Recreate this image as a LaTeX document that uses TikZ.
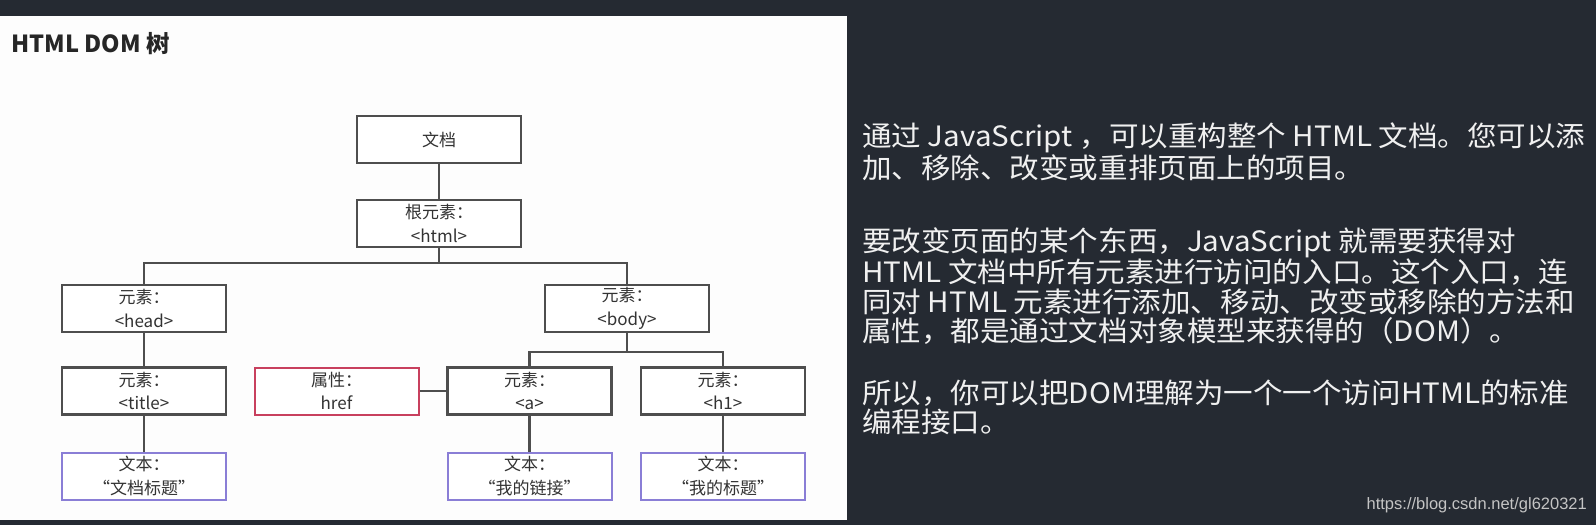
\documentclass[tikz,border=0pt]{standalone}
\usepackage{fontspec}
\setmainfont{Noto Sans CJK SC}
\newfontfamily\parafont{Noto Sans CJK SC}[FakeStretch=1.055]
\newfontfamily\urlfont{Liberation Sans}
\definecolor{darkbg}{HTML}{252A32}
\definecolor{panel}{HTML}{FDFDFD}
\definecolor{boxgray}{HTML}{4E4E4E}
\definecolor{nodetext}{HTML}{333333}
\definecolor{attrred}{HTML}{C8405E}
\definecolor{textblue}{HTML}{8A7ED6}
\definecolor{lighttext}{HTML}{F0F0F0}
\definecolor{urlgray}{HTML}{C4C4C4}
\tikzset{
  box/.style={draw=boxgray, line width=2.2pt, minimum width=164pt, minimum height=47pt,
    inner sep=0pt, align=center, text=nodetext, fill=white,
    font=\fontsize{17}{23.5}\selectfont},
  attrbox/.style={box, draw=attrred, line width=2pt},
  txtbox/.style={box, draw=textblue, line width=2pt},
  conn/.style={draw=boxgray, line width=2.2pt},
  para/.style={anchor=west, inner sep=0pt, text=lighttext, font=\parafont\fontsize{28}{30}\selectfont}
}
\begin{document}
\begin{tikzpicture}[x=1pt,y=-1pt]
\fill[darkbg] (0,0) rectangle (1596,525);
\fill[panel] (0,16) rectangle (847,520);
\useasboundingbox (0,0) rectangle (1596,525);

\node[anchor=west, inner sep=0pt, text=black!85, font=\fontsize{23.5}{26}\selectfont\bfseries] (title) at (11,44) {HTML DOM 树};

\node[box] (doc) at (439,139.5) {文档};
\node[box] (html) at (439,223.5) {根元素：\\<html>};
\node[box] (head) at (144,308.5) {元素：\\<head>};
\node[box] (body) at (627,308.5) {元素：\\<body>};
\node[box] (ttl) at (144,391) {元素：\\<title>};
\node[attrbox] (href) at (336.5,391) {属性：\\href};
\node[box] (a) at (529.5,391) {元素：\\<a>};
\node[box] (h1) at (723,391) {元素：\\<h1>};
\node[txtbox] (t1) at (144,476) {文本：\\“文档标题”};
\node[txtbox] (t2) at (529.5,476) {文本：\\“我的链接”};
\node[txtbox] (t3) at (723,476) {文本：\\“我的标题”};

\coordinate (b1) at (439,263);
\coordinate (b2) at (627,352);
\draw[conn] (doc.south) -- (html.north);
\draw[conn] (html.south) -- (b1);
\draw[conn] (head.north) |- (b1) -| (body.north);
\draw[conn] (body.south) -- (b2);
\draw[conn] (a.north) |- (b2) -| (h1.north);
\draw[conn] (head.south) -- (ttl.north);
\draw[conn] (ttl.south) -- (t1.north);
\draw[conn] (a.south) -- (t2.north);
\draw[conn] (h1.south) -- (t3.north);
\draw[conn] (href.east) -- (a.west);

\node[para] (l1) at (862,138) {通过 JavaScript ，可以重构整个 HTML 文档。您可以添};
\node[para] (l2) at (862,167.5) {加、移除、改变或重排页面上的项目。};
\node[para] (l4) at (862,243) {要改变页面的某个东西，JavaScript 就需要获得对};
\node[para] (l5) at (862,272.5) {HTML 文档中所有元素进行访问的入口。这个入口，连};
\node[para] (l6) at (862,302) {同对 HTML 元素进行添加、移动、改变或移除的方法和};
\node[para] (l7) at (862,331.5) {属性，都是通过文档对象模型来获得的（DOM）。};
\node[para] (l8) at (862,393) {所以，你可以把DOM理解为一个一个访问HTML的标准};
\node[para] (l9) at (862,422) {编程接口。};

\node[anchor=east, inner sep=0pt, text=urlgray, font=\urlfont\fontsize{16.5}{18}\selectfont] (url) at (1587,505) {https://blog.csdn.net/gl620321};
\end{tikzpicture}
\end{document}
